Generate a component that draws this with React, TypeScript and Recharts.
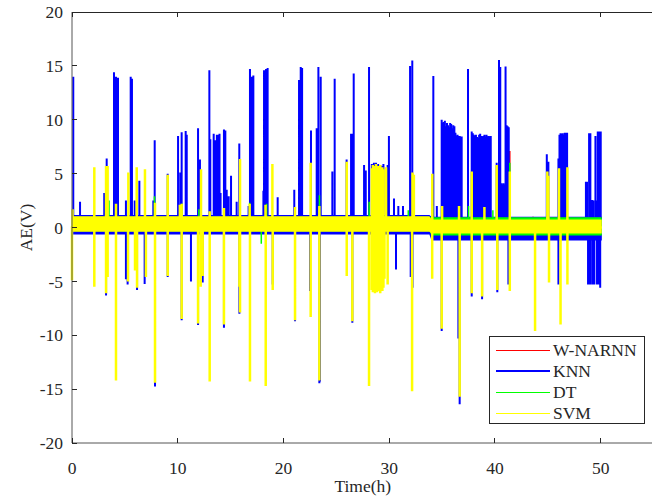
import { ComposedChart, Line, Area, XAxis, YAxis } from "recharts";

// spike events: [time (h), AE (V)]
const knnUp = [
  [0.12, 14.0], [0.76, 2.4], [3.05, 3.2], [3.28, 6.4], [3.97, 14.4], [4.16, 14.0], [4.35, 13.9],
  [5.1, 2.5], [5.55, 14.0], [5.67, 13.8], [5.93, 2.5], [6.37, 4.35], [7.69, 2.5], [7.82, 8.1],
  [9.05, 5.0], [10.03, 8.5], [10.24, 5.1], [10.37, 8.85], [10.75, 8.95], [10.85, 8.6],
  [11.92, 9.2], [12.1, 6.3], [12.99, 14.6], [13.08, 8.2], [13.4, 8.7], [13.53, 8.1],
  [13.7, 8.6], [13.82, 8.6], [13.95, 8.7], [14.05, 3.2], [14.37, 9.1], [14.5, 9.0], [14.63, 3.5],
  [14.82, 2.9], [15.04, 4.8], [15.57, 2.4], [15.82, 7.8], [16.7, 2.0], [16.83, 14.7],
  [16.99, 14.0], [17.15, 14.1], [18.1, 3.4], [18.16, 14.6], [18.35, 14.7], [18.5, 14.8],
  [19.45, 2.8], [21.02, 3.5], [21.47, 13.7], [21.63, 14.9], [21.76, 14.8], [22.6, 9.0],
  [23.14, 9.2], [23.3, 14.9], [23.52, 14.0], [24.62, 5.2], [24.84, 13.8], [25.97, 6.3],
  [26.39, 8.7], [26.5, 8.7], [26.64, 14.3], [27.62, 5.8], [27.78, 5.3], [28.09, 14.9],
  [28.35, 5.9], [28.45, 5.7], [28.55, 6.0], [28.65, 5.8], [28.75, 6.0], [28.85, 5.7],
  [28.95, 5.9], [29.05, 5.6], [29.15, 5.8], [29.25, 5.5], [29.35, 5.7], [29.45, 5.9],
  [29.85, 5.8], [29.97, 8.5], [30.45, 2.7], [30.86, 2.0], [31.3, 2.0], [31.97, 15.0],
  [32.18, 15.5], [34.17, 14.05], [34.5, 2.0],
  [34.96, 10.0], [35.06, 9.7], [35.16, 9.8], [35.26, 9.9], [35.36, 9.4], [35.46, 9.7],
  [35.56, 9.5], [35.66, 9.3], [35.76, 9.7], [35.86, 9.6], [35.96, 9.2], [36.06, 9.5],
  [36.16, 9.4], [36.26, 8.8], [36.36, 8.5], [36.46, 8.6], [36.56, 8.5], [36.66, 8.5],
  [36.76, 8.45], [36.85, 8.45], [37.45, 14.7],
  [37.8, 8.9], [37.9, 8.75], [38.0, 8.6], [38.1, 8.5], [38.2, 8.6], [38.3, 8.4],
  [38.4, 8.3], [38.5, 8.6], [38.6, 8.7], [38.7, 8.5], [38.8, 8.45], [38.9, 8.5],
  [39.0, 8.6], [39.1, 8.45], [39.2, 8.6], [39.3, 8.45], [39.4, 8.5], [39.5, 8.45], [39.6, 8.5],
  [40.16, 6.0], [40.38, 15.55], [40.5, 14.9], [40.6, 4.1], [40.7, 4.0], [40.8, 4.1], [40.9, 4.0],
  [41.0, 14.95], [41.1, 9.5], [41.2, 9.4], [41.3, 9.3],
  [44.9, 6.8], [45.05, 6.1], [46.0, 6.4], [46.1, 8.6], [46.2, 8.75], [46.3, 8.7],
  [46.4, 8.75], [46.5, 8.6], [46.6, 8.8], [46.7, 8.8], [46.82, 8.8],
  [48.6, 4.25], [48.7, 4.25], [48.9, 8.75], [49.02, 8.75], [49.2, 2.55], [49.3, 2.5],
  [49.5, 8.5], [49.6, 2.5], [49.72, 8.9], [49.85, 8.9], [50.0, 8.9],
];
const knnDown = [
  [3.22, -6.3], [5.1, -4.8], [5.26, -5.3], [6.15, -5.8], [6.87, -5.25], [7.85, -14.75],
  [9.05, -4.6], [10.37, -8.6], [11.25, -5.0], [11.92, -9.05], [12.36, -5.1], [14.37, -9.3],
  [15.83, -8.0], [18.98, -5.3], [21.09, -8.7], [22.51, -5.9], [23.39, -14.45], [23.45, -14.3],
  [26.51, -8.85], [30.64, -3.9], [32.03, -4.6], [32.2, -5.6], [34.96, -9.6], [36.54, -10.3],
  [36.66, -16.4], [37.8, -6.4], [38.78, -6.65], [40.22, -6.0], [41.27, -5.3],
  [46.0, -5.3], [48.8, -5.3], [48.9, -5.3], [49.05, -5.3], [49.25, -5.3], [49.4, -5.3],
  [49.65, -5.3], [49.8, -5.3], [49.95, -5.6],
];
const svmUp = [
  [0.05, 1.7], [2.11, 5.6], [3.22, 5.7], [3.37, 5.7], [4.16, 2.2], [5.33, 5.1], [6.12, 5.6],
  [6.9, 5.4], [7.85, 2.3], [9.05, 4.9], [10.2, 2.1], [10.37, 2.2], [12.2, 5.4], [13.02, 1.5],
  [14.37, 1.8], [15.89, 6.35], [16.8, 2.2], [18.3, 2.1], [18.95, 5.9], [21.09, 1.9],
  [22.57, 6.0], [23.39, 2.0], [25.98, 6.1], [28.35, 5.5], [28.45, 5.8], [28.55, 5.3],
  [28.65, 5.7], [28.75, 5.9], [28.85, 5.4], [28.95, 5.7], [29.05, 5.5], [29.15, 5.8],
  [29.25, 5.3], [29.35, 5.6], [29.45, 5.4], [29.7, 5.6], [32.2, 5.1], [32.33, 4.9],
  [34.07, 5.0], [35.0, 2.0], [36.6, 2.0], [37.8, 5.2], [39.0, 1.9], [40.16, 5.8],
  [41.4, 5.2], [44.95, 5.2], [45.05, 4.8], [46.05, 5.5], [46.85, 5.6],
];
const svmDown = [
  [0.0, -4.9], [2.11, -5.5], [3.22, -6.1], [3.37, -4.6], [4.16, -14.2], [5.3, -5.0],
  [5.96, -4.0], [6.15, -5.6], [6.99, -4.6], [7.85, -14.4], [9.05, -4.5], [10.37, -8.5],
  [11.92, -8.9], [12.17, -5.5], [12.36, -4.5], [13.02, -14.3], [14.37, -9.0], [15.83, -5.5],
  [15.89, -7.9], [16.83, -14.3], [18.32, -14.7], [18.98, -5.8], [21.09, -8.6], [22.57, -8.3],
  [23.39, -14.2], [25.98, -4.5], [26.51, -8.7], [28.09, -14.7], [28.35, -5.8], [28.45, -6.0],
  [28.55, -5.6], [28.65, -6.1], [28.75, -5.7], [28.85, -6.0], [28.95, -5.6], [29.05, -5.9],
  [29.15, -6.1], [29.25, -5.7], [29.35, -5.9], [29.45, -5.6], [29.55, -4.75], [29.85, -5.3],
  [32.16, -15.2], [34.06, -4.75], [34.96, -9.4], [36.66, -15.7], [37.8, -6.1], [38.78, -6.4],
  [40.22, -5.8], [41.4, -5.9], [43.79, -9.6], [45.11, -5.1], [46.2, -9.0], [46.85, -5.3],
];
const dtSpikes = [
  [3.5, 2.5], [7.8, 2.9], [10.4, 2.2], [12.0, 1.7], [16.8, 2.3], [18.4, 2.2], [23.4, 3.0],
  [28.1, 2.4], [31.8, 1.6], [34.1, 2.0], [37.5, 2.0], [39.8, 1.6], [41.4, 6.0],
  [17.9, -1.5], [43.79, -9.4],
];
const narnnSpikes = [[41.4, 7.1], [43.6, 1.0]];

// noise band envelopes around zero
const bandTimes = [0, 33.8, 34, 50.1];
const narnnLow = [-0.3, -0.3, -0.3, -0.3];
const narnnHigh = [0.9, 0.9, 0.6, 0.6];
const knnLow = [-0.65, -0.65, -1.2, -1.2];
const knnHigh = [1.15, 1.15, 1.0, 1.0];
const dtLow = [-0.35, -0.35, -0.75, -0.75];
const dtHigh = [1.0, 1.0, 0.95, 0.95];
const svmLow = [-0.4, -0.4, -0.55, -0.55];
const svmHigh = [1.05, 1.05, 0.75, 0.75];

const xTicks = [0, 10, 20, 30, 40, 50];
const yTicks = [-20, -15, -10, -5, 0, 5, 10, 15, 20];
const X_MAX = 55;
const Y_MIN = -20;
const Y_MAX = 20;

const spikeData = (...lists) => {
  const pts = [{ t: 0, y: 0 }];
  lists.flat().sort((a, b) => a[0] - b[0]).forEach(([t, v]) => {
    pts.push({ t, y: 0 }, { t, y: v }, { t, y: 0 });
  });
  pts.push({ t: 50.1, y: 0 });
  return pts;
};
const bandData = (low, high) => bandTimes.map((t, i) => ({ t, band: [low[i], high[i]] }));

const series = [
  { name: "W-NARNN", color: "#ff0000", width: 1.5, spikes: spikeData(narnnSpikes), band: bandData(narnnLow, narnnHigh) },
  { name: "KNN", color: "#0000ff", width: 2, spikes: spikeData(knnUp, knnDown), band: bandData(knnLow, knnHigh) },
  { name: "DT", color: "#00ff00", width: 1.5, spikes: spikeData(dtSpikes), band: bandData(dtLow, dtHigh) },
  { name: "SVM", color: "#ffff00", width: 2.5, spikes: spikeData(svmUp, svmDown), band: bandData(svmLow, svmHigh) },
];

const AXIS = "#262626";
const FONT = "Liberation Serif";
const FS = 17.5;

// plot box on the page, matched to the chart margins below
const BOX = { left: 72, top: 12, width: 581.6, height: 431 };
const TICK_LEN = 5;
const px = (t) => BOX.left + (t / X_MAX) * BOX.width;
const py = (v) => BOX.top + ((Y_MAX - v) / (Y_MAX - Y_MIN)) * BOX.height;

const XTick = ({ x, y, payload }) => (
  <text x={x} y={y + 11} dy="0.71em" textAnchor="middle" fontFamily={FONT} fontSize={FS} fill={AXIS}>
    {payload.value}
  </text>
);
const YTick = ({ y, payload }) => (
  <text x={63} y={y} dy="0.355em" textAnchor="end" fontFamily={FONT} fontSize={FS} fill={AXIS}>
    {payload.value}
  </text>
);

// MATLAB-style box edge and inward tick marks, laid over the chart as plain divs
function Frame() {
  const mark = { position: "absolute", background: AXIS };
  return (
    <div style={{ position: "absolute", left: 0, top: 0, width: 652, height: 500, zIndex: 10, pointerEvents: "none" }}>
      <div style={{ ...mark, left: BOX.left, top: BOX.top, width: 652 - BOX.left, height: 1 }} />
      {xTicks.map((t) => (
        <div key={"xt" + t} style={{ ...mark, left: px(t) - 0.5, top: BOX.top, width: 1, height: TICK_LEN }} />
      ))}
      {xTicks.map((t) => (
        <div key={"xb" + t}
          style={{ ...mark, left: px(t) - 0.5, top: BOX.top + BOX.height - TICK_LEN, width: 1, height: TICK_LEN }} />
      ))}
      {yTicks.map((v) => (
        <div key={"yl" + v} style={{ ...mark, left: BOX.left, top: py(v) - 0.5, width: TICK_LEN, height: 1 }} />
      ))}
    </div>
  );
}

export default function App() {
  return (
    <div
      style={{
        position: "absolute", left: 0, top: 0, width: 652, height: 500,
        overflow: "hidden", background: "#fff", fontFamily: FONT,
      }}
    >
      <div style={{ position: "absolute", left: 0, top: 0, zIndex: 1 }}>
        <ComposedChart width={660} height={500} margin={{ top: 12, right: 6.4, bottom: 27, left: 12 }}>
          <XAxis
            dataKey="t" type="number" domain={[0, X_MAX]} ticks={xTicks}
            height={30} tickLine={false} axisLine={{ stroke: "#555" }} tick={XTick}
            label={(p) => {
              const vb = p.viewBox;
              return (
                <text x={vb.x + vb.width / 2} y={486} textAnchor="middle" dominantBaseline="central"
                  fontSize={FS} fontFamily={FONT} fill={AXIS}>Time(h)</text>
              );
            }}
          />
          <YAxis
            type="number" domain={[Y_MIN, Y_MAX]} ticks={yTicks} width={60}
            tickLine={false} axisLine={{ stroke: "#555" }} tick={YTick}
            label={(p) => {
              const vb = p.viewBox;
              const cy = vb.y + vb.height / 2;
              return (
                <text x={26} y={cy} transform={`rotate(-90 26 ${cy})`} textAnchor="middle"
                  dominantBaseline="central" fontSize={FS} fontFamily={FONT} fill={AXIS}>AE(V)</text>
              );
            }}
          />

          {series.flatMap((s, i) => [
            <Area
              key={s.name + "-band"} data={s.band} dataKey="band" type="linear"
              stroke="none" fill={s.color} fillOpacity={1} dot={false} activeDot={false}
              isAnimationActive={false} zIndex={110 + i * 10}
            />,
            <Line
              key={s.name + "-spikes"} data={s.spikes} dataKey="y" type="linear"
              stroke={s.color} strokeWidth={s.width} dot={false} activeDot={false}
              isAnimationActive={false} zIndex={115 + i * 10}
            />,
          ])}
        </ComposedChart>
      </div>

      <Frame />

      <div
        style={{
          position: "absolute", left: 489, top: 336, width: 156, height: 88, zIndex: 11,
          boxSizing: "border-box", border: `1px solid ${AXIS}`, background: "#fff",
          fontSize: FS, color: AXIS,
        }}
      >
        {series.map((s, i) => (
          <div key={s.name} style={{ position: "absolute", left: 0, top: 3 + i * 21, height: 20, width: "100%" }}>
            <div style={{
              position: "absolute", left: 6, top: 10 - (s.name === "KNN" ? 1 : 0.5), width: 54,
              height: s.name === "KNN" ? 2 : 1, background: s.color,
            }} />
            <span style={{ position: "absolute", left: 63, top: 0, lineHeight: "20px", whiteSpace: "nowrap" }}>
              {s.name}
            </span>
          </div>
        ))}
      </div>
    </div>
  );
}
